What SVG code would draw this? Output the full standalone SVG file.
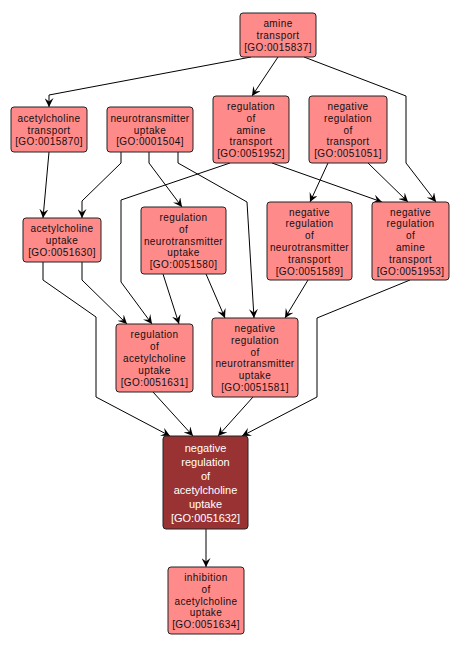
<svg xmlns="http://www.w3.org/2000/svg" width="459" height="649" viewBox="0 0 459 649">
<style>
.n rect{fill:#ff8a8a;stroke:#222;stroke-width:1}
.n text{font-family:"Liberation Sans",Arial,sans-serif;font-size:10px;letter-spacing:0.4px;fill:#111;text-anchor:middle}
.d rect{fill:#993333;stroke:#222;stroke-width:1}
.d text{font-family:"Liberation Sans",Arial,sans-serif;font-size:11px;fill:#fff;text-anchor:middle}
#edges path{fill:none;stroke:#000;stroke-width:1;marker-end:url(#a)}
</style>
<defs>
<marker id="a" viewBox="0 0 10 10" refX="10" refY="5" markerWidth="9" markerHeight="9" markerUnits="userSpaceOnUse" orient="auto">
<path d="M0,0 L10,5 L0,10 L4,5 z" fill="#000"/>
</marker>
</defs>
<rect width="459" height="649" fill="#fff"/>
<g id="edges">
<path d="M251,57 L49,95 L49,107"/>
<path d="M278,57 L252,96"/>
<path d="M304,57 L406,96 L406,163 L436,202"/>
<path d="M49,152 L43,218"/>
<path d="M121,152 L121,163 L82,201 L82,218"/>
<path d="M149,152 L149,163 L182,207"/>
<path d="M178,152 L178,163 L247,202 L254,318"/>
<path d="M230,163 L121,200 L121,282 L152,324"/>
<path d="M272,163 L382,202"/>
<path d="M328,163 L310,202"/>
<path d="M368,163 L408,202"/>
<path d="M43,262 L43,280 L96,317 L96,397 L170,436"/>
<path d="M82,262 L82,280 L127,324"/>
<path d="M163,274 L179,324"/>
<path d="M206,274 L225,318"/>
<path d="M308,280 L285,318"/>
<path d="M410,280 L317,318 L317,397 L242,436"/>
<path d="M153,392 L193,436"/>
<path d="M253,397 L218,436"/>
<path d="M206,529 L206,567"/>
</g>
<g id="GO0015837" class="n"><rect x="240" y="13" width="76" height="44" rx="3"/>
<text x="278" y="27.2">amine</text><text x="278" y="39">transport</text><text x="278" y="50.8">[GO:0015837]</text></g>
<g id="GO0015870" class="n"><rect x="11" y="107" width="76" height="45" rx="3"/>
<text x="49" y="121.7">acetylcholine</text><text x="49" y="133.5">transport</text><text x="49" y="145.3">[GO:0015870]</text></g>
<g id="GO0001504" class="n"><rect x="107" y="107" width="86" height="45" rx="3"/>
<text x="150" y="121.7">neurotransmitter</text><text x="150" y="133.5">uptake</text><text x="150" y="145.3">[GO:0001504]</text></g>
<g id="GO0051952" class="n"><rect x="213" y="96" width="76" height="67" rx="3"/>
<text x="251" y="109.9">regulation</text><text x="251" y="121.7">of</text><text x="251" y="133.5">amine</text><text x="251" y="145.3">transport</text><text x="251" y="157.1">[GO:0051952]</text></g>
<g id="GO0051051" class="n"><rect x="309" y="96" width="78" height="67" rx="3"/>
<text x="348" y="109.9">negative</text><text x="348" y="121.7">regulation</text><text x="348" y="133.5">of</text><text x="348" y="145.3">transport</text><text x="348" y="157.1">[GO:0051051]</text></g>
<g id="GO0051630" class="n"><rect x="23" y="218" width="78" height="44" rx="3"/>
<text x="62" y="232.2">acetylcholine</text><text x="62" y="244">uptake</text><text x="62" y="255.8">[GO:0051630]</text></g>
<g id="GO0051580" class="n"><rect x="141" y="207" width="85" height="67" rx="3"/>
<text x="183.5" y="220.9">regulation</text><text x="183.5" y="232.7">of</text><text x="183.5" y="244.5">neurotransmitter</text><text x="183.5" y="256.3">uptake</text><text x="183.5" y="268.1">[GO:0051580]</text></g>
<g id="GO0051589" class="n"><rect x="267" y="202" width="85" height="78" rx="3"/>
<text x="309.5" y="215.5">negative</text><text x="309.5" y="227.3">regulation</text><text x="309.5" y="239.1">of</text><text x="309.5" y="250.9">neurotransmitter</text><text x="309.5" y="262.7">transport</text><text x="309.5" y="274.5">[GO:0051589]</text></g>
<g id="GO0051953" class="n"><rect x="372" y="202" width="77" height="78" rx="3"/>
<text x="410.5" y="215.5">negative</text><text x="410.5" y="227.3">regulation</text><text x="410.5" y="239.1">of</text><text x="410.5" y="250.9">amine</text><text x="410.5" y="262.7">transport</text><text x="410.5" y="274.5">[GO:0051953]</text></g>
<g id="GO0051631" class="n"><rect x="116" y="324" width="77" height="68" rx="3"/>
<text x="154.5" y="338.4">regulation</text><text x="154.5" y="350.2">of</text><text x="154.5" y="362">acetylcholine</text><text x="154.5" y="373.8">uptake</text><text x="154.5" y="385.6">[GO:0051631]</text></g>
<g id="GO0051581" class="n"><rect x="212" y="318" width="86" height="79" rx="3"/>
<text x="255" y="332">negative</text><text x="255" y="343.8">regulation</text><text x="255" y="355.6">of</text><text x="255" y="367.4">neurotransmitter</text><text x="255" y="379.2">uptake</text><text x="255" y="391">[GO:0051581]</text></g>
<g id="GO0051632" class="d"><rect x="163" y="436" width="85" height="93" rx="3"/>
<text x="205.5" y="452">negative</text><text x="205.5" y="466">regulation</text><text x="205.5" y="480">of</text><text x="205.5" y="494">acetylcholine</text><text x="205.5" y="508">uptake</text><text x="205.5" y="522">[GO:0051632]</text></g>
<g id="GO0051634" class="n"><rect x="168" y="567" width="76" height="67" rx="3"/>
<text x="206" y="580.9">inhibition</text><text x="206" y="592.7">of</text><text x="206" y="604.5">acetylcholine</text><text x="206" y="616.3">uptake</text><text x="206" y="628.1">[GO:0051634]</text></g>
</svg>
